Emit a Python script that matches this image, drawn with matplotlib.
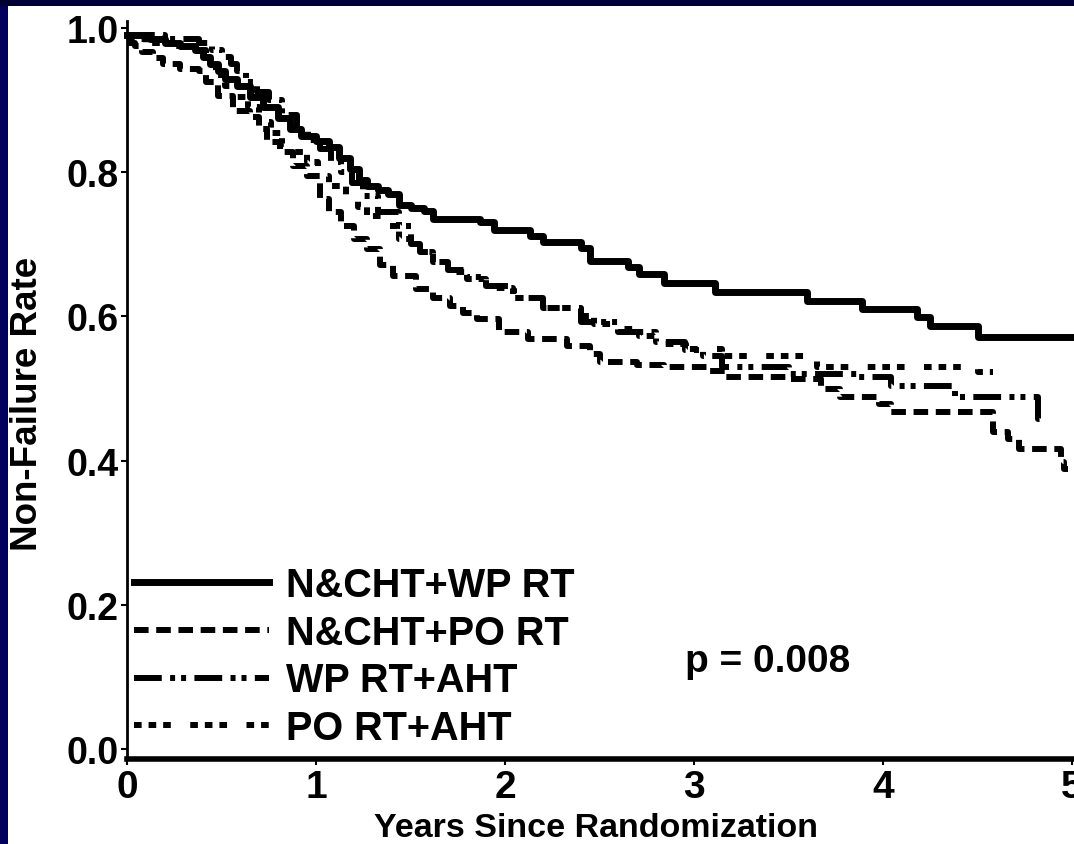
import matplotlib
matplotlib.use("Agg")
import matplotlib.pyplot as plt
from matplotlib.patches import Rectangle

plt.rcParams['lines.scale_dashes'] = False
plt.rcParams['font.family'] = ['Liberation Sans', 'DejaVu Sans']
plt.rcParams['font.weight'] = 'bold'

# ---- data (years since randomization, non-failure rate; step changes) ----
labels = ["N&CHT+WP RT", "N&CHT+PO RT", "WP RT+AHT", "PO RT+AHT"]

t_nwp = [0, 0.12, 0.20, 0.28, 0.36, 0.40, 0.44, 0.48, 0.52, 0.58, 0.65, 0.72, 0.80, 0.86, 0.92,
         1.00, 1.07, 1.12, 1.18, 1.23, 1.27, 1.33, 1.38, 1.44, 1.50, 1.57, 1.62, 1.87, 1.94,
         2.13, 2.20, 2.40, 2.45, 2.65, 2.71, 2.84, 3.11, 3.60, 3.89, 4.18, 4.25, 4.50, 5.00]
v_nwp = [0.99, 0.985, 0.98, 0.975, 0.97, 0.96, 0.95, 0.94, 0.93, 0.92, 0.905, 0.89, 0.875, 0.86, 0.85,
         0.843, 0.835, 0.82, 0.805, 0.79, 0.781, 0.775, 0.77, 0.755, 0.75, 0.746, 0.735, 0.731, 0.72,
         0.712, 0.703, 0.695, 0.677, 0.668, 0.659, 0.646, 0.634, 0.621, 0.61, 0.599, 0.587, 0.571, 0.571]

t_npo = [0, 0.04, 0.08, 0.14, 0.19, 0.28, 0.38, 0.42, 0.48, 0.56, 0.65, 0.70, 0.74, 0.81, 0.88, 0.95,
         1.02, 1.07, 1.13, 1.20, 1.27, 1.34, 1.41, 1.53, 1.62, 1.71, 1.78, 1.85, 1.97, 2.12, 2.33,
         2.45, 2.50, 2.70, 2.84, 3.07, 3.17, 3.50, 3.67, 3.77, 3.98, 4.04, 4.58, 4.66, 4.72, 4.94,
         4.96, 4.98]
v_npo = [0.98, 0.975, 0.967, 0.958, 0.95, 0.943, 0.94, 0.925, 0.906, 0.885, 0.877, 0.86, 0.842, 0.828,
         0.809, 0.795, 0.763, 0.745, 0.725, 0.708, 0.693, 0.672, 0.656, 0.638, 0.625, 0.614, 0.605,
         0.596, 0.578, 0.569, 0.559, 0.548, 0.537, 0.533, 0.53, 0.524, 0.516, 0.513, 0.499, 0.488,
         0.478, 0.467, 0.44, 0.43, 0.416, 0.398, 0.388, 0.388]

t_wpa = [0, 0.20, 0.38, 0.45, 0.50, 0.55, 0.58, 0.63, 0.69, 0.75, 0.82, 0.90, 0.96, 1.02, 1.08,
         1.13, 1.19, 1.25, 1.33, 1.44, 1.50, 1.55, 1.62, 1.70, 1.80, 1.90, 2.05, 2.20, 2.40, 2.60,
         2.80, 2.95, 3.05, 3.15, 3.50, 3.86, 4.04, 4.38, 4.82, 4.85]
v_wpa = [0.99, 0.985, 0.98, 0.97, 0.96, 0.95, 0.94, 0.925, 0.912, 0.90, 0.88, 0.86, 0.845, 0.832,
         0.815, 0.80, 0.785, 0.767, 0.745, 0.725, 0.70, 0.69, 0.675, 0.665, 0.655, 0.642, 0.626,
         0.612, 0.592, 0.578, 0.565, 0.553, 0.545, 0.53, 0.52, 0.516, 0.503, 0.488, 0.458, 0.458]

t_poa = [0, 0.10, 0.25, 0.38, 0.42, 0.47, 0.52, 0.58, 0.64, 0.70, 0.76, 0.82, 0.88, 0.95, 1.01,
         1.07, 1.16, 1.22, 1.27, 1.36, 1.44, 1.53, 1.62, 1.72, 1.80, 1.90, 2.04, 2.20, 2.33, 2.47,
         2.61, 2.71, 2.80, 2.96, 3.15, 3.65, 4.50, 4.58]
v_poa = [0.985, 0.98, 0.975, 0.97, 0.95, 0.935, 0.92, 0.905, 0.89, 0.87, 0.855, 0.84, 0.828, 0.814,
         0.795, 0.781, 0.767, 0.752, 0.739, 0.725, 0.707, 0.69, 0.675, 0.662, 0.652, 0.64, 0.626,
         0.612, 0.60, 0.59, 0.582, 0.573, 0.562, 0.555, 0.545, 0.53, 0.523, 0.523]

x_ticks = [0, 1, 2, 3, 4, 5]
y_ticks = [0.0, 0.2, 0.4, 0.6, 0.8, 1.0]
p_text = "p = 0.008"

# ---- figure ----
W, H = 1074, 845
fig = plt.figure(figsize=(W / 100, H / 100), dpi=100, facecolor='#00005c')
fig.patches.append(Rectangle((0, (H - 7) / H), 1, 7 / H, transform=fig.transFigure,
                             facecolor='#000035', edgecolor='none', zorder=-10))
fig.patches.append(Rectangle((8 / W, 0), 1, (H - 7) / H, transform=fig.transFigure,
                             facecolor='white', edgecolor='none', zorder=-9))

ax = fig.add_axes([127 / W, 85 / H, 945 / W, 738 / H])
ax.set_facecolor('none')
ax.set_xlim(0, 5)
ax.set_ylim(-0.014, 1.01)

styles = [
    dict(linestyle='-', linewidth=5.0),
    dict(linestyle=(0, (10.5, 5.5)), linewidth=4.3),
    dict(linestyle=(0, (20, 6, 3.6, 4.3, 3.6, 6)), linewidth=4.3),
    dict(linestyle=(0, (5.5, 5, 5.5, 5, 5.5, 14)), linewidth=4.3),
]
series = [(t_nwp, v_nwp), (t_npo, v_npo), (t_wpa, v_wpa), (t_poa, v_poa)]
for (t, v), lab, st in zip(series, labels, styles):
    ax.step(t, v, where='post', color='black', label=lab, clip_on=False, **st)

for s in ['top', 'right']:
    ax.spines[s].set_visible(False)
ax.spines['left'].set_linewidth(2.0)
ax.spines['bottom'].set_linewidth(4.0)

ax.set_xticks(x_ticks)
ax.set_xticklabels([str(x) for x in x_ticks])
ax.set_yticks(y_ticks)
ax.set_yticklabels([f"{y:.1f}" for y in y_ticks])
ax.tick_params(axis='both', direction='out', length=4, width=1.5, color='black')
ax.tick_params(axis='x', labelsize=28, pad=3)
ax.tick_params(axis='y', labelsize=27, pad=2)
for lbl in ax.get_xticklabels() + ax.get_yticklabels():
    lbl.set_fontweight('bold')

ax.set_xlabel("Years Since Randomization", fontsize=24.5, fontweight='bold')
ax.xaxis.set_label_coords(0.496, -0.072)
ax.set_ylabel("Non-Failure Rate", fontsize=26.5, fontweight='bold')
ax.yaxis.set_label_coords(-0.087, 0.482)

leg = ax.legend(loc='upper left', bbox_to_anchor=(0.0074, 0.262), frameon=False,
                handlelength=3.4, handletextpad=0.44, labelspacing=0.25,
                borderpad=0, borderaxespad=0, prop={'weight': 'bold', 'size': 28.5})

ax.text(2.95, 0.122, p_text, fontsize=28, fontweight='bold', va='center', ha='left')

fig.savefig("out.png", dpi=100, facecolor=fig.get_facecolor())
